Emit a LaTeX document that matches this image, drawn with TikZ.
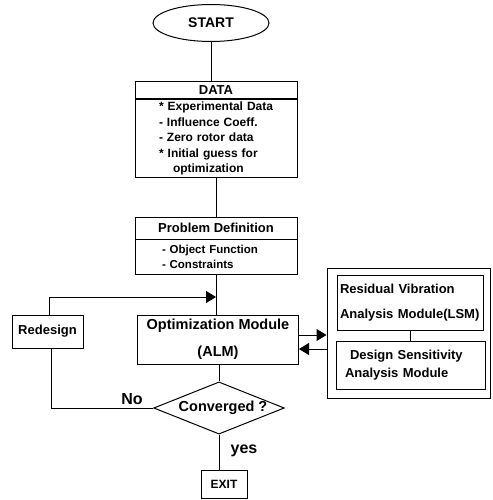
\documentclass[tikz,border=0pt]{standalone}
\usepackage{fontspec}
\setmainfont{Liberation Sans}
\usetikzlibrary{shapes.geometric,arrows.meta}
\newcommand{\fs}[2]{\fontsize{#1}{#2}\selectfont}
\newcommand{\ind}[1]{\hspace*{#1}}
\begin{document}
\begin{tikzpicture}[x=1pt,y=-1pt,
  box/.style={draw,line width=1pt,rectangle,inner sep=0pt,font=\bfseries},
  ln/.style={line width=1pt},
  arr/.style={line width=1pt,-{Triangle[length=10pt,width=12pt]}},
]
\useasboundingbox (0,0) rectangle (492,500);
% START
\node[draw,ellipse,line width=1pt,minimum width=116pt,minimum height=37pt,inner sep=0pt,font=\bfseries\fs{14}{16}] (start) at (211,23) {START};
% DATA
\node[box,minimum width=162pt,minimum height=17pt,font=\bfseries\fs{13}{15}] (datah) at (216,90.5) {DATA};
\node[box,anchor=north,minimum height=78pt,inner xsep=0pt,text width=162pt,align=left,font=\bfseries\fs{12}{15.5}] (datab) at (216,99)
 {\ind{24pt}{*} Experimental Data\\\ind{24pt}- Influence Coeff.\\\ind{24pt}- Zero rotor data\\\ind{24pt}{*} Initial guess for\\\ind{38pt}optimization};
% Problem definition
\node[box,minimum width=162pt,minimum height=22pt,font=\bfseries\fs{13}{15}] (probh) at (216,228) {Problem Definition};
\node[box,anchor=north,minimum height=35pt,inner xsep=0pt,text width=162pt,align=left,font=\bfseries\fs{11.5}{15}] (probb) at (216,239)
 {\ind{27pt}- Object Function\\\ind{27pt}- Constraints};
% Optimization module
\node[box,minimum width=161pt,minimum height=49pt,align=center,font=\bfseries\fs{14.5}{27}] (optim) at (218,339.5) {Optimization Module\\(ALM)};
% Right module
\node[box,minimum width=163pt,minimum height=130pt] (outer) at (408.5,333) {};
\node[box,minimum height=55pt,inner xsep=3pt,text width=140pt,align=left,font=\bfseries\fs{13}{25}] (lsm) at (410,302.5) {Residual Vibration\\Analysis Module(LSM)};
\node[box,minimum height=48pt,inner xsep=9pt,text width=131pt,align=left,font=\bfseries\fs{13}{18}] (dsa) at (410.5,365) {\ind{5pt}Design Sensitivity\\Analysis Module};
% Redesign
\node[box,minimum width=71pt,minimum height=33pt,font=\bfseries\fs{13}{15}] (redesign) at (47.5,331.5) {Redesign};
% Decision
\node[draw,diamond,line width=1pt,aspect=2.5,minimum width=126pt,minimum height=49pt,inner sep=0pt,font=\bfseries\fs{14.5}{16}] (dia) at (219,408) {\ind{8pt}Converged ?};
% Exit
\node[box,minimum width=46pt,minimum height=28pt,font=\bfseries\fs{12}{14}] (exit) at (224,484) {EXIT};
% Labels
\node[font=\bfseries\fs{16}{18}] (no) at (132,399) {No};
\node[font=\bfseries\fs{16}{18}] (yes) at (244,451) {yes};
\coordinate (j) at (216,297);
% Connectors
\draw[ln] (start.south) -- (start.south |- datah.north);
\draw[ln] (datab.south) -- (probh.north);
\draw[ln] (probb.south) -- (probb.south |- optim.north);
\draw[ln] (optim.south -| dia.north) -- (dia.north);
\draw[ln] (dia.south) -- (dia.south |- exit.north);
\draw[ln] (lsm.south) -- (lsm.south |- dsa.north);
\draw[arr] ([xshift=2pt]redesign.north) |- (j);
\draw[ln] ([xshift=4pt]redesign.south) |- (dia.west);
\draw[arr] ([yshift=4.5pt]optim.east) -- ([yshift=4.5pt]optim.east -| outer.west);
\draw[arr] ([yshift=-9.5pt]optim.east -| outer.west) -- ([yshift=-9.5pt]optim.east);
\end{tikzpicture}
\end{document}
